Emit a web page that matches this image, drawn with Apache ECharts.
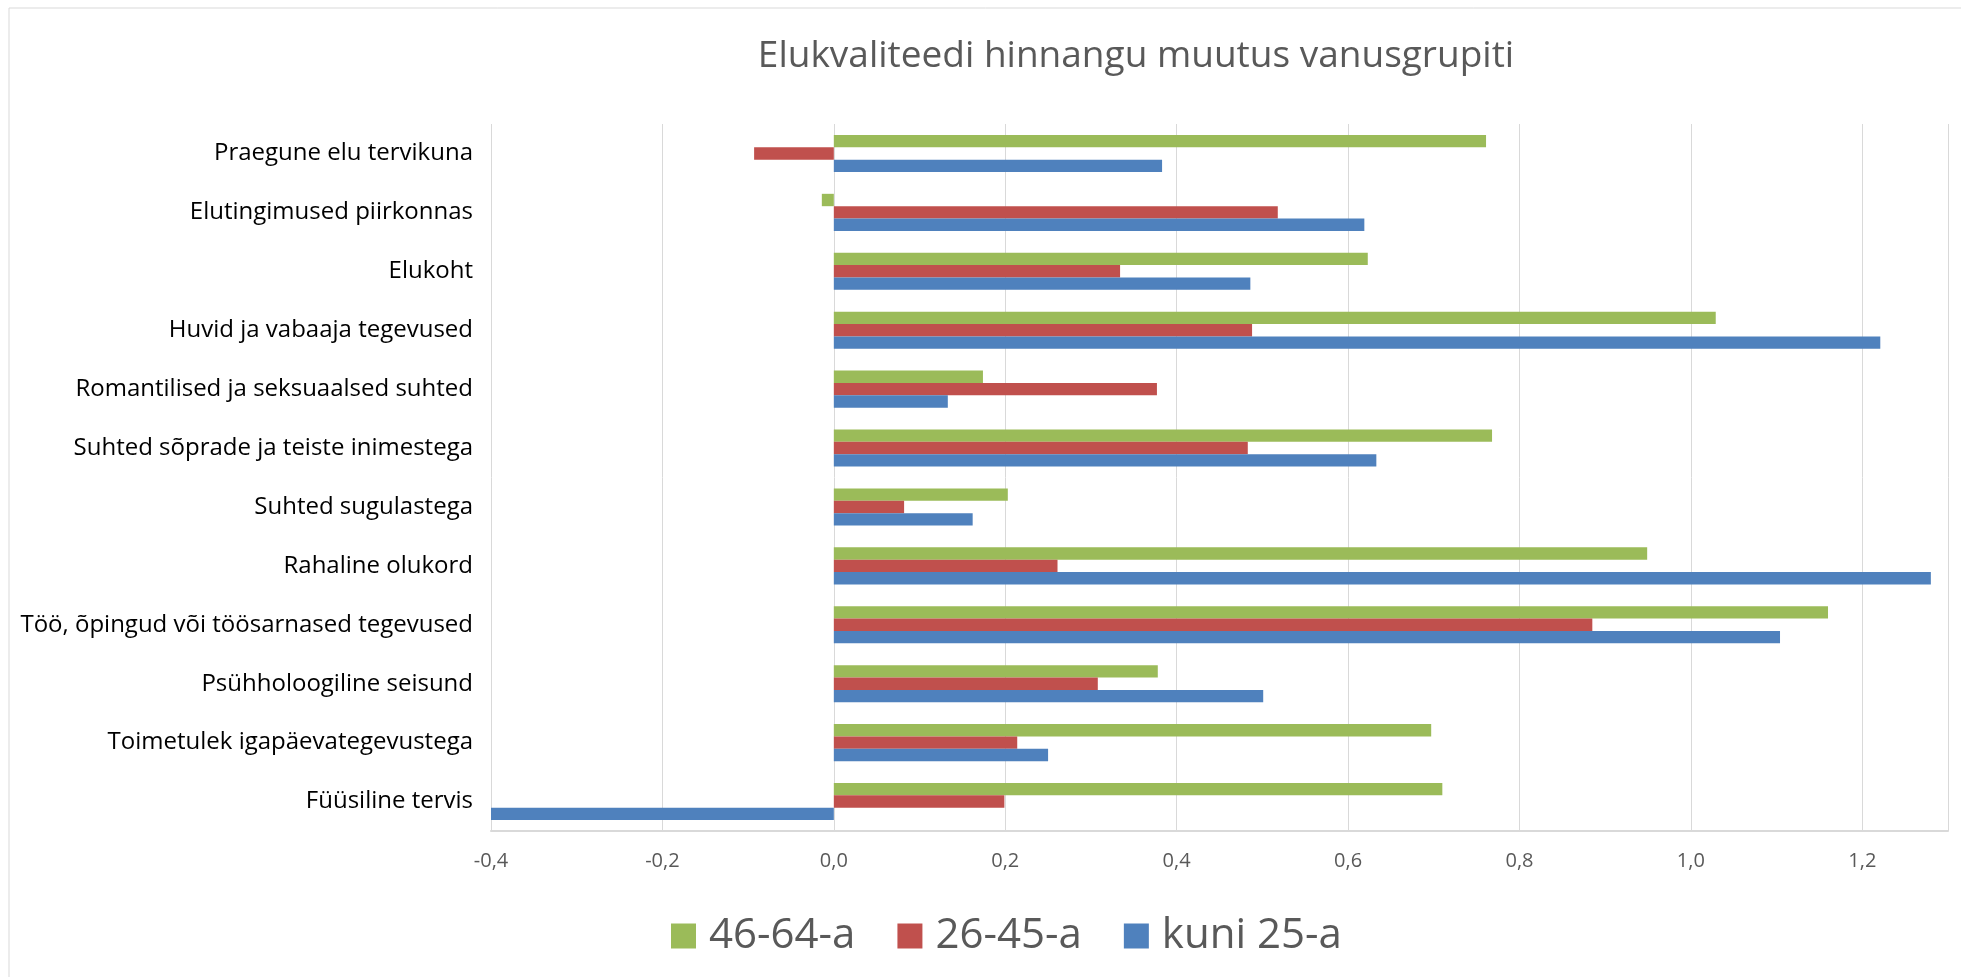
<!DOCTYPE html>
<html>
<head>
<meta charset="utf-8">
<script src="https://cdn.jsdelivr.net/npm/echarts@6/dist/echarts.min.js"></script>
<style>
  html, body { margin: 0; padding: 0; background: #fff; }
  #chart { width: 1961px; height: 977px; }
</style>
</head>
<body>
<div id="chart"></div>
<script>
// kategooriad ülevalt alla
var categories = [
  'Praegune elu tervikuna',
  'Elutingimused piirkonnas',
  'Elukoht',
  'Huvid ja vabaaja tegevused',
  'Romantilised ja seksuaalsed suhted',
  'Suhted sõprade ja teiste inimestega',
  'Suhted sugulastega',
  'Rahaline olukord',
  'Töö, õpingud või töösarnased tegevused',
  'Psühholoogiline seisund',
  'Toimetulek igapäevategevustega',
  'Füüsiline tervis'
];
var seriesNames = ['46-64-a', '26-45-a', 'kuni 25-a'];
var vanem = [0.761, -0.014, 0.623, 1.029, 0.174, 0.768, 0.203, 0.949, 1.160, 0.378, 0.697, 0.710];
var keskmine = [-0.093, 0.518, 0.334, 0.488, 0.377, 0.483, 0.082, 0.261, 0.885, 0.308, 0.214, 0.199];
var noored = [0.383, 0.619, 0.486, 1.221, 0.133, 0.633, 0.162, 1.280, 1.104, 0.501, 0.250, -0.40];
var colors = ['#9BBB59', '#C0504D', '#4F81BD'];

var font = '"Open Sans", sans-serif';

var myChart = echarts.init(document.getElementById('chart'));
myChart.setOption({
  animation: false,
  textStyle: { fontFamily: font },
  graphic: [{
    type: 'rect',
    shape: { x: 9, y: 8, width: 1990, height: 1000 },
    style: { fill: 'none', stroke: '#d9d9d9', lineWidth: 1 }
  }],
  title: {
    text: 'Elukvaliteedi hinnangu muutus vanusgrupiti',
    left: 1131,
    textAlign: 'center',
    top: 33,
    textStyle: { color: '#595959', fontSize: 37, fontWeight: 'normal', fontFamily: font }
  },
  legend: {
    data: seriesNames,
    left: 666,
    top: 910,
    icon: 'rect',
    itemWidth: 25,
    itemHeight: 25,
    itemGap: 42,
    textStyle: { color: '#595959', fontSize: 42, fontFamily: font, padding: [0, 0, 0, 8] }
  },
  grid: { left: 491, right: 13, top: 124, bottom: 146, containLabel: false, outerBoundsMode: 'none' },
  xAxis: {
    type: 'value',
    min: -0.4,
    max: 1.3,
    interval: 0.2,
    axisLine: { show: true, onZero: false, lineStyle: { color: '#d9d9d9', width: 2 } },
    axisTick: { show: false },
    splitLine: { show: true, lineStyle: { color: '#d9d9d9', width: 1 } },
    axisLabel: {
      color: '#595959',
      fontSize: 20,
      margin: 20,
      showMaxLabel: false,
      formatter: function (v) { return v.toFixed(1).replace('.', ','); }
    }
  },
  yAxis: {
    type: 'category',
    data: categories,
    inverse: true,
    axisLine: { show: false },
    axisTick: { show: false },
    axisLabel: { color: '#000', fontSize: 24, margin: 18 }
  },
  series: [
    { name: seriesNames[0], type: 'bar', data: vanem, itemStyle: { color: colors[0] }, barGap: '0%', barCategoryGap: '37%' },
    { name: seriesNames[1], type: 'bar', data: keskmine, itemStyle: { color: colors[1] }, barGap: '0%', barCategoryGap: '37%' },
    { name: seriesNames[2], type: 'bar', data: noored, itemStyle: { color: colors[2] }, barGap: '0%', barCategoryGap: '37%' }
  ]
});
</script>
</body>
</html>
